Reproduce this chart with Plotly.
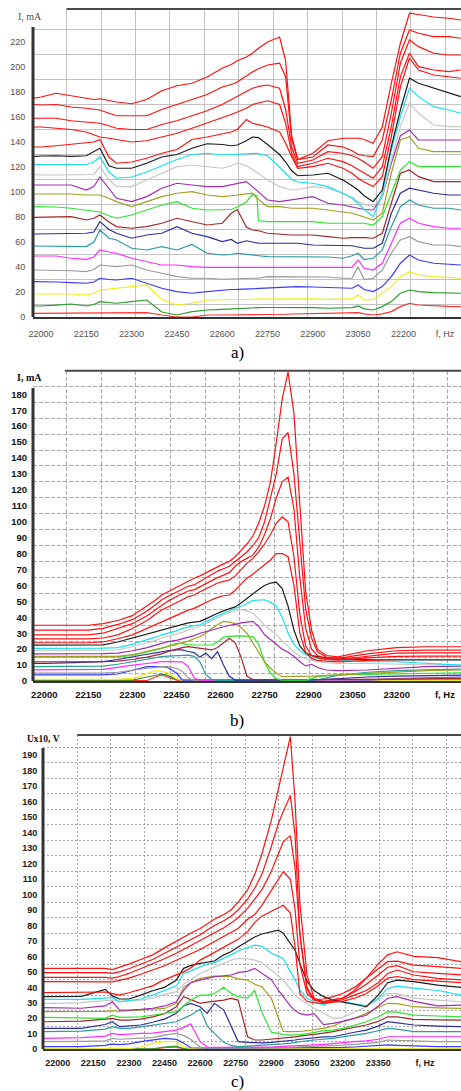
import plotly.graph_objects as go

# ---------------- panel a) : I, mA  vs  f, Hz ----------------
A_FREQ = [21975, 22000, 22050, 22100, 22150, 22175, 22195, 22225, 22250, 22300, 22350, 22400, 22450, 22500, 22550, 22600, 22630, 22650, 22680, 22700, 22715, 22720, 22750, 22790, 22810, 22830, 22850, 22900, 22950, 23000, 23030, 23050, 23070, 23100, 23130, 23160, 23190, 23220, 23250, 23300, 23350, 23390]
A_RED1 = [175, 176, 179, 177, 175, 174, 174.6, 173, 172, 170.6, 174, 181, 185, 187, 192, 199, 202, 205, 208, 211, 214, 215, 220, 224, 205, 145, 126, 131, 141, 143, 143, 143, 142, 139, 152, 187, 219, 243, 242, 240, 239, 237.6]
A_RED2 = [170, 169.6, 170, 168, 167, 166, 165.6, 163, 161, 161, 161, 166, 170, 174, 178, 184, 186, 188, 193, 196, 198, 198.5, 201.6, 203, 192, 142, 126, 128, 137.6, 136, 133, 130, 129, 128.3, 141.6, 173.6, 211, 229.6, 227, 224.3, 224.3, 223]
A_RED3 = [159, 159, 159, 157, 156, 155, 155, 153, 151, 150, 150, 154, 157, 161, 165, 170, 174, 176, 180, 183, 184, 184.5, 185.6, 183, 166, 136, 123, 125.6, 132.3, 131, 129, 127, 124, 119, 128.3, 163, 203, 221.6, 216.3, 211, 209.6, 209.6]
A_RED4 = [152, 152, 151, 150, 148, 146, 144, 143, 142, 140, 141, 144, 147, 151, 155, 159, 162, 164, 167, 170, 171, 171.5, 173, 170, 155, 131, 120.3, 123, 127, 124.3, 121, 118, 115, 111, 120.3, 152.3, 192.3, 211, 200.3, 197.6, 196.3, 197.6]
A_RED5 = [136, 136, 137, 138, 139, 140, 142, 128, 123, 124, 127, 131, 134, 142, 144, 146.6, 148, 150, 158, 155, 154, 153.5, 152, 148, 139, 128.3, 119, 120.3, 123, 119, 115, 111, 108, 104.3, 112.3, 144.3, 184.3, 207, 197.6, 193.6, 192.3, 191]
A_BLACK = [128.3, 128.8, 129, 128.5, 129, 132, 135, 121, 119, 119, 123, 128, 130, 135, 138.6, 138, 137, 137.6, 141, 144, 144, 143.5, 138, 130, 124, 117, 113, 113.6, 115, 109.6, 105, 101.6, 97, 92.3, 101.6, 136.3, 165.6, 191, 187, 183, 179, 176.3]
A_CYAN = [122, 122, 122, 122, 122, 124, 128, 116, 111, 112, 116, 121, 126, 130, 131, 129.6, 130, 130, 131, 131, 131, 130.5, 129, 120, 115, 110, 108, 107, 104.3, 99, 95, 91, 86, 80.3, 99, 133.6, 160.3, 183, 176.3, 168.3, 165.6, 163]
A_LGRAY = [114, 113.6, 113.6, 113.6, 113.6, 114, 120, 110, 104.3, 104.3, 109.6, 115, 120.3, 121.6, 120.3, 119, 121, 123, 121, 118, 116, 115, 109.6, 104.3, 103, 101.6, 102, 104.3, 103, 99, 96, 92.3, 90, 88.3, 96.3, 125.6, 152.3, 171, 163, 153.6, 152.3, 152.3]
A_PURPLE = [105.6, 105.6, 105.6, 105.6, 101.6, 104.3, 112, 103, 95, 92.3, 96.3, 103, 107, 105.6, 104.3, 104.3, 106, 107, 108.3, 104.3, 101, 100, 93.6, 92.3, 93, 93.6, 94, 96.3, 91, 89.6, 88, 87, 86, 85.6, 96.3, 123, 145, 149.6, 141.6, 141.6, 141.6, 141.6]
A_OLIVE = [98.4, 98.4, 98.4, 98.4, 97.6, 97.6, 97.6, 95, 92.3, 88.3, 92.3, 96.3, 99, 100.3, 97.6, 96.3, 97, 97.6, 98, 99, 95, 94, 88.3, 88.3, 87.5, 87, 87, 87, 85.6, 84.3, 83, 81.6, 80, 77.6, 83, 115, 141.6, 144.3, 135, 132.3, 132.3, 132.3]
A_GREEN = [88.3, 88.3, 88, 87, 85.6, 85, 84, 81, 79, 81.6, 85.6, 89.6, 92.3, 87, 85.6, 85.6, 86, 88, 92, 98, 97, 77, 76.3, 76.3, 76.3, 76.3, 76.3, 76.3, 75, 75, 75, 75, 75, 73.6, 80.3, 99, 117.6, 124.3, 120.3, 120.3, 120.3, 120.3]
A_BROWN = [79.7, 79.7, 80, 80.3, 77.6, 79, 81.6, 76, 72.3, 71, 72.3, 75, 79, 76.3, 73.6, 75, 83, 86, 72, 69.6, 69, 69, 67, 66, 65.6, 65.6, 65.6, 65.6, 64.3, 63, 63.5, 63.7, 63.5, 63, 67, 91, 115, 117.6, 112.3, 108.3, 108.3, 108.3]
A_NAVY = [66.4, 66.4, 66.4, 66.4, 67, 68, 76.3, 70, 67, 63, 65.6, 67, 72.3, 67, 64.3, 60.3, 62, 59, 61, 60, 59.5, 59, 59, 59, 59, 59, 59, 57.6, 57.6, 57.6, 57, 56, 55, 55, 59, 83, 99, 103, 101.6, 99, 97.6, 97.6]
A_TEAL = [56.8, 56.8, 56.8, 56.8, 56.3, 60, 69.6, 63, 61.6, 55, 53.6, 56.3, 53.6, 58, 51, 49.6, 50, 51, 50, 49.6, 49, 49, 48.3, 48.3, 48.3, 48.3, 48.3, 48.3, 48, 47, 49, 51, 46, 47, 53.6, 72.3, 88.3, 93.6, 89.6, 87, 87, 85.6]
A_MAGENTA = [48.8, 48.8, 48.8, 47, 46.1, 48, 53.6, 52, 51, 47, 44.3, 41.6, 41.6, 40.3, 39.7, 39.7, 39.7, 39.7, 40, 40.3, 40.3, 40.3, 40.3, 40.3, 40.3, 40.3, 40.3, 40.3, 40.3, 39.7, 39.7, 45.6, 39, 37.6, 43, 59, 75, 79, 75, 72.3, 71, 71]
A_GRAY = [37.6, 37.6, 37.6, 37, 36.3, 38, 41.6, 41, 40.3, 41.6, 37.6, 35, 32.3, 31, 31, 30.2, 30.5, 31, 31, 31, 31, 31, 32.3, 32.3, 32.3, 32.3, 32.3, 32.3, 32, 31, 31, 40.3, 30, 31, 37.6, 51, 61.6, 64.3, 60.3, 57.6, 57.6, 56.3]
A_BLUE = [28.3, 28.3, 28, 27.5, 27, 28, 31, 30, 29.6, 31, 27, 23, 20.3, 19, 20.3, 21.6, 22, 22.1, 22.5, 22.9, 23, 23, 23.5, 24, 24, 24.3, 24.3, 24, 23.5, 22.9, 23, 25.6, 22, 20.3, 24.3, 32.3, 43, 49.6, 45.6, 43, 42.4, 41.6]
A_YELLOW = [18.4, 18.4, 18.4, 18.4, 17.6, 19, 21.6, 22.5, 23, 24.3, 25.6, 14, 9.6, 11, 13.6, 13.6, 13.8, 14.1, 14.1, 14.2, 14.3, 14.3, 14.4, 14.5, 14.6, 14.7, 14.9, 14.5, 14.1, 14.1, 14.5, 17.6, 13.6, 14.1, 19, 24.3, 32.3, 36.3, 33.6, 32.3, 31.7, 31]
A_DGREEN = [8.8, 8.8, 9.5, 10.4, 8.8, 10, 12.3, 11.5, 11, 12.3, 13.6, 4, 1.6, 4.3, 5.6, 6.1, 6.5, 6.9, 7.3, 7.5, 7.5, 7.5, 7.6, 7.7, 7.7, 7.7, 7.7, 7.5, 7, 7, 7.5, 8.8, 6.5, 5.6, 8.3, 12.3, 19, 21.6, 20.3, 19.5, 19.5, 19]
A_RED6 = [2.9, 2.9, 2.9, 3.2, 2.9, 3, 3, 3, 3, 3.2, 3.5, 1.6, 0, 0, 1.6, 1.6, 1.6, 1.8, 1.8, 2, 2, 2, 2, 2.2, 2.2, 2.4, 2.5, 2.6, 2.8, 2.9, 2.9, 3.5, 2.5, 1.6, 2.5, 4.3, 8.3, 11, 9.6, 8.8, 8.5, 8.3]
A_XTICKVALS = [22000, 22150, 22300, 22450, 22600, 22750, 22900, 23050, 23200, 23338]
A_XTICKTEXT = ["22000", "22150", "22300", "22450", "22600", "22750", "22900", "23050", "22200", "f, Hz"]
A_YTICKS = [0, 20, 40, 60, 80, 100, 120, 140, 160, 180, 200, 220]

# ---------------- panel b) : I, mA  vs  f, Hz ----------------
B_FREQ = [21960, 22000, 22100, 22150, 22200, 22250, 22300, 22350, 22380, 22400, 22420, 22450, 22470, 22490, 22510, 22530, 22550, 22570, 22590, 22610, 22630, 22650, 22670, 22690, 22710, 22730, 22750, 22770, 22790, 22810, 22830, 22850, 22870, 22890, 22910, 22930, 22960, 23000, 23100, 23200, 23300, 23420]
B_RED1 = [35, 35, 35, 35, 36, 38, 41, 47, 51, 54, 56, 59, 61, 63, 64.5, 66, 68, 70, 72, 73.5, 75, 78, 82, 86, 91, 99, 110, 125, 150, 177, 194, 168, 111, 56, 32, 20, 16, 15.2, 19, 21, 21.5, 21.5]
B_RED2 = [32, 32, 32, 32, 33, 35.5, 38.5, 44, 48, 51, 53, 56, 58, 59.5, 60.3, 62.5, 65, 67, 69, 70.5, 72, 75, 78, 81, 85, 90, 100, 115, 130, 152, 156, 130, 85, 45, 27, 18.3, 15, 14.2, 17, 19, 19.4, 19.4]
B_RED3 = [29, 29, 29, 29, 30, 33, 36, 41, 45, 47.7, 50, 53, 55, 56.5, 57.2, 59, 61, 63, 65, 66.5, 68, 72, 75, 77, 79, 84, 92, 102, 115, 125, 128, 108, 65, 33, 20, 16, 14, 13.5, 15.5, 17.5, 17.7, 17.7]
B_RED4 = [26.5, 26.5, 26.5, 26.5, 27, 29, 33, 38, 42, 44.6, 46.5, 49, 51, 53, 54, 56, 58, 60, 61.5, 62.5, 63.4, 66, 70, 74, 77, 81, 86, 92, 99, 103, 100, 78, 42, 22, 16, 14.5, 13.5, 13.1, 14.5, 15.5, 15.6, 15.6]
B_RED5 = [24, 24, 24, 24, 24.5, 26.5, 29, 33, 35.5, 37.3, 39, 41.5, 43, 44.5, 45.6, 47.5, 49, 51, 52.5, 53.5, 54, 57, 61, 64.5, 67, 70, 73, 76, 80, 80, 78, 60, 30, 18, 14, 13, 12.5, 12, 13, 13.5, 13.5, 13.5]
B_BLACK = [22.5, 22.5, 22.5, 22.5, 22.7, 24.5, 27, 29.5, 31, 32, 33.2, 34.5, 35.5, 36.5, 37, 37.4, 39, 41, 42.5, 44, 45.3, 46.5, 49, 52, 55, 57.5, 60, 61.5, 62, 58, 47, 32, 22, 17.5, 16, 15.3, 14.5, 14.2, 13.2, 13.2, 13.2, 13.2]
B_CYAN = [20.5, 20.5, 20.5, 20.5, 20.7, 21, 23, 26, 27.5, 29, 30, 31.5, 33, 34, 34.8, 35.3, 37, 39, 41, 42.5, 44, 45.5, 47, 48.5, 50.6, 51, 51, 49.5, 47, 40, 30, 23, 19, 16.5, 15, 14.3, 13.6, 13.3, 12.1, 12.1, 11, 10]
B_LGRAY = [19, 19, 19, 19, 19.3, 19.5, 21.5, 24, 25.5, 27, 28, 29.5, 30.5, 32, 33, 34.2, 36, 38, 40, 41.5, 43, 44, 45, 44, 42.6, 39, 35, 32, 29, 25, 22, 18, 15.5, 14, 13, 12.1, 11.5, 11, 11, 10.5, 10.2, 10]
B_PURPLE = [17, 17, 17, 17, 17.2, 17.5, 19, 21, 22.5, 23.5, 24.7, 25.5, 26.5, 27.5, 28.5, 30, 31, 32, 33, 34, 35, 35.5, 36.5, 37, 37.4, 34.2, 29, 26, 23, 20, 18, 15.5, 12.1, 9.5, 10.5, 8.5, 6.9, 6.5, 6.9, 7.9, 9, 9.4]
B_OLIVE = [15.5, 15.5, 15.5, 15.5, 15.5, 15.5, 16.5, 18.5, 19.7, 20.5, 21.6, 23, 24, 25, 26.5, 27.9, 30, 33, 35.3, 37.4, 37, 36, 33.5, 30, 24, 18, 12, 8, 5, 2.7, 2.7, 2.7, 2.7, 2.7, 3, 3.2, 3.5, 3.8, 4.8, 5.9, 6.5, 6.9]
B_GREEN = [15, 15, 15, 15, 15, 15.2, 16, 18, 19.5, 20.5, 21.6, 23.7, 23.5, 22.8, 22.6, 22.6, 22.6, 22.6, 24.5, 27.5, 28, 28.3, 28.3, 28, 27.9, 23, 12, 5, 1.5, 0.6, 0.6, 0.6, 0.6, 0.6, 1.5, 2.7, 3.2, 3.8, 4.1, 4.4, 4.8, 5.2]
B_BROWN = [12, 12, 12, 12, 12.1, 12.5, 13.5, 15, 16.2, 17, 18.4, 20, 21, 21.6, 21, 20.5, 20, 19.5, 21, 24, 26.8, 24, 15, 3, 1, 0.8, 0.8, 0.8, 0.8, 0.8, 0.8, 0.8, 0.8, 0.8, 0.8, 0.8, 0.8, 0.8, 1, 1.2, 1.4, 1.5]
B_NAVY = [11, 11, 11.5, 12, 12.2, 13.5, 15.3, 16.8, 17.7, 18.4, 19, 19.5, 19.5, 18.5, 17.8, 15, 17.5, 14, 18.4, 10, 3, 0.6, 0.5, 0.5, 0.5, 0.5, 0.5, 0.5, 0.5, 0.5, 0.5, 0.5, 0.5, 0.5, 0.6, 0.8, 1, 1.5, 2.5, 3, 3.5, 3.7]
B_TEAL = [9, 9, 9.2, 9.4, 9.4, 10.5, 12.2, 13.8, 14.7, 15.3, 15.6, 16, 16.3, 16.3, 15.5, 12, 4, 1, 0.3, 0.3, 0.3, 0.3, 0.3, 0.3, 0.3, 0.3, 0.3, 0.3, 0.3, 0.3, 0.3, 0.3, 0.3, 0.3, 0.3, 0.8, 2, 3.5, 5.5, 6.5, 7, 7.5]
B_MAGENTA = [7, 7, 7.1, 7.2, 7.3, 8.5, 10, 11, 11.8, 12.2, 12.2, 12.2, 12, 9, 2, 0.5, 0.5, 0.5, 0.5, 0.5, 0.5, 0.5, 0.5, 0.5, 0.5, 0.5, 0.5, 0.5, 0.5, 0.5, 0.5, 0.5, 0.5, 0.5, 0.5, 0.5, 0.5, 0.5, 0.8, 1, 1.3, 1.5]
B_GRAY = [5, 5, 5, 5, 5, 5.5, 6.9, 8, 8.5, 9, 9, 8, 6, 2, 0.3, 0.3, 0.3, 0.3, 0.3, 0.3, 0.3, 0.3, 0.3, 0.3, 0.3, 0.3, 0.3, 0.3, 0.3, 0.3, 0.3, 0.3, 0.3, 0.3, 0.3, 0.3, 0.3, 0.3, 0.8, 1.2, 1.6, 2]
B_BLUE = [3.8, 3.8, 3.8, 3.8, 3.8, 4.4, 6.9, 9, 9, 9, 8.5, 5, 0.5, 0.5, 0.5, 0.5, 0.5, 0.5, 0.5, 0.5, 0.5, 0.5, 0.5, 0.5, 0.5, 0.5, 0.5, 0.5, 0.5, 0.5, 0.5, 0.5, 0.5, 0.5, 0.5, 0.5, 0.5, 0.5, 0.5, 1.5, 2, 2.5]
B_YELLOW = [1, 1, 1, 1, 1, 1, 1.7, 5, 6.5, 6, 5.2, 1.5, 0.3, 0.3, 0.3, 0.3, 0.3, 0.3, 0.3, 0.3, 0.3, 0.3, 0.3, 0.3, 0.3, 0.3, 0.3, 0.3, 0.3, 0.3, 0.3, 0.3, 0.3, 0.3, 0.3, 0.3, 0.3, 0.3, 0.3, 0.3, 0.3, 0.3]
B_DGREEN = [0.5, 0.5, 0.5, 0.5, 0.5, 0.5, 0.5, 2.5, 3.8, 4.4, 3.5, 1, 0.5, 0.5, 0.5, 0.5, 0.5, 0.5, 0.5, 0.5, 0.5, 0.5, 0.5, 0.5, 0.5, 0.5, 0.5, 0.5, 0.5, 0.5, 0.5, 0.5, 0.5, 0.5, 0.5, 0.5, 0.5, 0.5, 0.5, 0.5, 0.5, 0.5]
B_RED6 = [0.3, 0.3, 0.3, 0.3, 0.3, 0.3, 0.3, 0.3, 2.7, 3.8, 2.5, 0.5, 0.3, 0.3, 0.3, 0.3, 0.3, 0.3, 0.3, 0.3, 0.3, 0.3, 0.3, 0.3, 0.3, 0.3, 0.3, 0.3, 0.3, 0.3, 0.3, 0.3, 0.3, 0.3, 0.3, 0.3, 0.3, 0.3, 0.3, 0.3, 0.3, 0.3]
B_XTICKVALS = [22000, 22150, 22300, 22450, 22600, 22750, 22900, 23050, 23200, 23364]
B_XTICKTEXT = ["22000", "22150", "22300", "22450", "22600", "22750", "22900", "23050", "23200", "f, Hz"]
B_YTICKS = [0, 10, 20, 30, 40, 50, 60, 70, 80, 90, 100, 110, 120, 130, 140, 150, 160, 170, 180]

# ---------------- panel c) : Ux10, V  vs  f, Hz ----------------
C_FREQ = [21940, 22000, 22100, 22200, 22230, 22260, 22300, 22350, 22400, 22450, 22500, 22530, 22560, 22600, 22630, 22660, 22700, 22730, 22760, 22800, 22830, 22860, 22900, 22930, 22950, 22980, 23000, 23020, 23050, 23080, 23120, 23160, 23200, 23250, 23300, 23350, 23390, 23430, 23500, 23600, 23700]
C_RED1 = [52.3, 52.3, 52.5, 52.3, 51.5, 53, 55, 58, 61, 65.5, 70, 72.5, 75, 78, 81, 84, 87, 90, 95, 103, 113, 126, 148, 168, 181, 202, 160, 95, 48, 33, 30.8, 32, 33, 38, 46, 55, 61, 63, 60, 59.2, 56.6]
C_RED2 = [49.5, 49.5, 49.5, 49.5, 49, 50, 52, 55, 58, 62, 66, 68.5, 71, 74, 77, 80, 83, 86, 90, 97, 104, 113, 131, 146, 153.5, 164, 138, 74, 39, 32, 32.5, 34, 36, 40, 46, 52, 56.6, 57, 54.4, 53.4, 52.3]
C_RED3 = [46.5, 46.5, 46.5, 46.5, 46, 47, 49, 52, 55, 58.5, 62, 64.5, 67, 70, 72.5, 75, 78.5, 81.5, 85, 91, 97, 103, 115, 126, 134, 138, 117, 75, 40, 32, 30.8, 32, 33, 37, 42, 48, 53, 54, 50.1, 49, 48]
C_RED4 = [43.7, 43.7, 43.7, 43.7, 43.5, 44.5, 46, 48.5, 51, 54, 57.5, 59.5, 62, 64.5, 67, 69.5, 72.5, 75, 78, 84, 87, 93, 103, 110, 114.7, 110, 90, 55, 36, 32, 30, 30.8, 32, 35, 38, 43, 49, 51.2, 48, 45.8, 44.8]
C_RED5 = [36.6, 36.6, 36.6, 37, 36, 35, 36.5, 38.5, 41, 45, 48, 50, 52.5, 57.6, 60, 62.5, 66, 68.5, 71, 76, 82, 86, 89, 91.5, 93, 88, 66, 36, 31, 30, 29.7, 30.5, 31, 33, 36, 41, 46, 47, 45, 44, 43]
C_BLACK = [34, 34, 34.2, 38.7, 34.5, 32.5, 32.5, 35, 37.8, 40, 44.7, 52.3, 54, 55.5, 56.3, 57, 61, 63, 66, 70, 72.5, 74.5, 76, 77, 75, 68, 64, 55.5, 44, 38, 34, 31.8, 30.5, 29, 27.5, 35, 43, 44.7, 43.7, 41.5, 40]
C_CYAN = [32.3, 32.3, 32.3, 33, 33.5, 30.7, 31.5, 32.5, 35, 38, 41, 49, 50.5, 53.3, 55, 56, 58.7, 61, 63.5, 65.5, 67.3, 66.5, 62, 60, 58.7, 50, 45, 38.3, 33, 30.7, 28.6, 31.4, 30.7, 29.5, 28, 33, 39.3, 40.8, 39.5, 38, 35]
C_LGRAY = [29.7, 29.7, 30.2, 31.8, 31.8, 31, 31.5, 31.8, 33, 35.5, 37.2, 42, 45, 49, 51, 53, 55.5, 57.5, 58.7, 58.5, 57.6, 56, 51, 47.5, 44.7, 39, 35, 32.5, 29.5, 26.5, 23.5, 20, 20.5, 24, 27.5, 32, 36, 36, 33, 31.8, 30.7]
C_PURPLE = [26.9, 26.9, 26.5, 28, 30.7, 25.5, 25.3, 25.8, 26.5, 28, 30.7, 38, 43, 44.7, 45.8, 46.9, 47.5, 48, 49.5, 50.5, 52.3, 49, 45, 38, 34, 28, 25, 23, 22.1, 23, 16, 16.7, 18, 20, 22, 28, 33, 34, 31, 28, 28.6]
C_OLIVE = [24.3, 24.3, 24.3, 24.5, 25, 24.5, 25, 25.3, 26, 26.4, 29.7, 40, 43, 45.8, 46.5, 47.3, 47, 46.9, 45.5, 44.7, 42, 40.4, 33, 20, 11.5, 11.4, 11.4, 11.5, 12, 12.5, 13.5, 15, 17.8, 20, 23.2, 27, 29.7, 29.5, 27.5, 26.8, 26.4]
C_GREEN = [20.6, 20.6, 20.3, 20, 22.1, 20.6, 20.6, 21, 22, 23, 24.3, 28, 31.8, 35, 35, 36, 40, 36.1, 34, 33, 38, 24, 11, 10.3, 9.5, 9.2, 9.2, 9.5, 10, 11, 12, 12.4, 13.5, 15.5, 17.8, 21, 24.3, 24, 22.1, 21.5, 21]
C_BROWN = [17.8, 17.8, 18.2, 19.5, 20, 18.9, 18.9, 19.5, 21, 23, 27.5, 34, 32, 29.7, 30.5, 31, 31.8, 32.9, 31.8, 8.1, 6, 6, 6.5, 7, 7.1, 7.5, 8, 8.5, 9, 9.5, 10.5, 11.4, 12.5, 14, 15.7, 18, 21, 21, 19.3, 19, 18.9]
C_NAVY = [13.5, 13.5, 13.5, 16, 17.8, 14.6, 15, 15.7, 17.5, 19.5, 23.2, 28, 29.7, 27.5, 23.2, 29.7, 25.3, 14.6, 5, 4.5, 4.2, 4.2, 4.5, 4.9, 5, 5.5, 6, 6.5, 7, 7.5, 8, 8.1, 9.5, 11, 12.4, 15, 17.8, 17, 15.7, 15, 14.6]
C_TEAL = [11.4, 11.4, 11.8, 13, 14.6, 13.5, 13.5, 14.5, 15.7, 17, 17.8, 20, 22, 26, 15, 10.3, 4.5, 2.5, 1.7, 2.1, 2.3, 2.5, 3, 3.4, 3.5, 4, 4.5, 5, 5.5, 6, 6.5, 7, 8, 9, 10.3, 12, 13.5, 13, 11.4, 11.4, 11.4]
C_MAGENTA = [7.1, 7.1, 7.5, 8.5, 10.3, 9.5, 10, 10.3, 10.5, 11.5, 12.4, 14, 16.5, 5, 1.5, 1.2, 1.2, 1.2, 1.2, 1.2, 1.3, 1.4, 1.5, 1.7, 1.8, 2, 2.2, 2.4, 2.6, 2.8, 3.2, 3.6, 4, 4.9, 5.5, 6.5, 8.1, 8.1, 8.1, 8.1, 8.1]
C_GRAY = [4.9, 4.9, 5.1, 5.5, 7.1, 6.5, 6.8, 7.1, 7.5, 9.2, 10.3, 9, 6.5, 1.5, 1, 0.8, 0.8, 0.8, 0.8, 0.8, 0.8, 0.9, 1, 1.1, 1.2, 1.3, 1.4, 1.5, 1.6, 1.8, 2, 2.3, 2.7, 3.2, 3.8, 4.5, 6, 5.8, 5, 4.9, 4.9]
C_BLUE = [1.7, 1.7, 1.7, 2.5, 3.4, 3, 3.5, 5, 6, 7.1, 6.4, 4, 1, 0.8, 0.8, 0.8, 0.8, 0.8, 0.8, 0.8, 0.8, 0.8, 0.8, 0.8, 0.8, 0.8, 0.8, 0.8, 0.8, 0.9, 1, 1.1, 1.2, 1.5, 2, 2.5, 2.8, 2.5, 2, 1.7, 1.7]
C_YELLOW = [0.5, 0.5, 0.5, 0.5, 0.5, 0.5, 0.5, 1.5, 3.8, 4.9, 4.9, 1.7, 0.4, 0.4, 0.4, 0.4, 0.4, 0.4, 0.4, 0.4, 0.4, 0.4, 0.4, 0.4, 0.4, 0.4, 0.4, 0.4, 0.4, 0.4, 0.4, 0.4, 0.4, 0.4, 0.4, 0.4, 0.4, 0.4, 0.4, 0.4, 0.4]
C_DGREEN = [0.3, 0.3, 0.3, 0.3, 0.3, 0.3, 0.3, 0.3, 0.3, 1.5, 2.1, 0.5, 0.3, 0.3, 0.3, 0.3, 0.3, 0.3, 0.3, 0.3, 0.3, 0.3, 0.3, 0.3, 0.3, 0.3, 0.3, 0.3, 0.3, 0.3, 0.3, 0.3, 0.3, 0.3, 0.3, 0.3, 0.3, 0.3, 0.3, 0.3, 0.3]
C_RED6 = [0.2, 0.2, 0.2, 0.2, 0.2, 0.2, 0.2, 0.2, 0.2, 1, 1.5, 0.3, 0.2, 0.2, 0.2, 0.2, 0.2, 0.2, 0.2, 0.2, 0.2, 0.2, 0.2, 0.2, 0.2, 0.2, 0.2, 0.2, 0.2, 0.2, 0.2, 0.2, 0.2, 0.2, 0.2, 0.2, 0.2, 0.2, 0.2, 0.2, 0.2]
C_XTICKVALS = [22000, 22150, 22300, 22450, 22600, 22750, 22900, 23050, 23200, 23350, 23547]
C_XTICKTEXT = ["22000", "22150", "22300", "22450", "22600", "22750", "22900", "23050", "23200", "23350", "f, Hz"]
C_YTICKS = [0, 10, 20, 30, 40, 50, 60, 70, 80, 90, 100, 110, 120, 130, 140, 150, 160, 170, 180, 190]

# ---------------- styling ----------------
W, H = 461, 1091
LINE_COLORS = ["#ff1010", "#ff1010", "#ff1010", "#ff1010", "#ff1010", "#1a1a1a", "#18e0ee",
               "#c6c6c6", "#a32cb2", "#a0a020", "#2ee42e", "#a02828", "#2c2c9e", "#2a9c9c",
               "#ff2cff", "#9a9a9a", "#3a3aff", "#eeee18", "#2a9a2a", "#ff3030"]

A_SERIES = [A_RED1, A_RED2, A_RED3, A_RED4, A_RED5, A_BLACK, A_CYAN, A_LGRAY, A_PURPLE, A_OLIVE,
            A_GREEN, A_BROWN, A_NAVY, A_TEAL, A_MAGENTA, A_GRAY, A_BLUE, A_YELLOW, A_DGREEN, A_RED6]
B_SERIES = [B_RED1, B_RED2, B_RED3, B_RED4, B_RED5, B_BLACK, B_CYAN, B_LGRAY, B_PURPLE, B_OLIVE,
            B_GREEN, B_BROWN, B_NAVY, B_TEAL, B_MAGENTA, B_GRAY, B_BLUE, B_YELLOW, B_DGREEN, B_RED6]
C_SERIES = [C_RED1, C_RED2, C_RED3, C_RED4, C_RED5, C_BLACK, C_CYAN, C_LGRAY, C_PURPLE, C_OLIVE,
            C_GREEN, C_BROWN, C_NAVY, C_TEAL, C_MAGENTA, C_GRAY, C_BLUE, C_YELLOW, C_DGREEN, C_RED6]

SANS = "Liberation Sans, Arial, sans-serif"
SERIF = "Liberation Serif, Times New Roman, serif"

PANELS = [
    dict(n="", freq=A_FREQ, series=A_SERIES, px_left=33, py_bottom=317, py_top=9,
         xrange=[21973.5, 23390.7], yrange=[0, 246.4],
         xtv=A_XTICKVALS, xtt=A_XTICKTEXT, ytv=A_YTICKS,
         xgrid=(22085, 114), ygrid=(10, 20), gridcolor="#c2c2c2", griddash="solid",
         font=dict(family=SANS, size=9, color="#505050"), xticklen=7, yticklen=5,
         axis_top=232, frame_x0=22085,
         title="I, mA", title_xy=(30, 17), title_font=dict(family=SERIF, size=10, color="#505050"),
         caption="a)", caption_y=352),
    dict(n="2", freq=B_FREQ, series=B_SERIES, px_left=33, py_bottom=681, py_top=370.7,
         xrange=[21961.5, 23418.8], yrange=[0, 194.8],
         xtv=B_XTICKVALS, xtt=B_XTICKTEXT, ytv=B_YTICKS,
         xgrid=(22076, 118), ygrid=(5, 10), gridcolor="#a9a9a9", griddash="4px,2px",
         font=dict(family=SANS, size=9.5, color="#111111", weight="bold"), xticklen=4, yticklen=3,
         axis_top=184, frame_x0=22070,
         title="I, mA", title_xy=(29, 377), title_font=dict(family=SERIF, size=10, color="#111111", weight="bold"),
         caption="b)", caption_y=720),
    dict(n="3", freq=C_FREQ, series=C_SERIES, px_left=43, py_bottom=1049.3, py_top=735,
         xrange=[21938.1, 23698.9], yrange=[0, 203.0],
         xtv=C_XTICKVALS, xtt=C_XTICKTEXT, ytv=C_YTICKS,
         xgrid=(22082.5, 141.4), ygrid=(5, 10), gridcolor="#a4a4a4", griddash="2px,2px",
         font=dict(family=SANS, size=9, color="#1a1a1a", weight="bold"), xticklen=4, yticklen=3,
         axis_top=194.6, frame_x0=22082.5,
         title="Ux10, V", title_xy=(43, 739), title_font=dict(family=SERIF, size=9.5, color="#111111", weight="bold"),
         caption="c)", caption_y=1081),
]

fig = go.Figure()
shapes, annotations = [], []
layout = {}

for p in PANELS:
    n = p["n"]
    xa, ya = "x" + n, "y" + n
    freq = p["freq"]
    names = ["red1", "red2", "red3", "red4", "red5", "black", "cyan", "lgray", "purple", "olive",
             "green", "brown", "navy", "teal", "magenta", "gray", "blue", "yellow", "dgreen", "red6"]
    for name, vals in zip(names, p["series"]):
        assert len(vals) == len(freq), f"panel {n or '1'} {name}: {len(vals)} vs {len(freq)}"
    order = list(range(len(p["series"])))[::-1]
    for i in order:
        fig.add_trace(go.Scatter(
            x=freq, y=p["series"][i], mode="lines", xaxis=xa, yaxis=ya,
            line=dict(color=LINE_COLORS[i], width=1.2), hoverinfo="skip", showlegend=False))

    layout["xaxis" + n] = dict(
        domain=[p["px_left"] / W, 1.0], range=p["xrange"], anchor=ya, automargin=False,
        tickmode="array", tickvals=p["xtv"], ticktext=p["xtt"],
        showgrid=False, zeroline=False, showline=True, linecolor="#333333", linewidth=2,
        ticks="outside", ticklen=p["xticklen"], tickcolor="rgba(0,0,0,0)",
        tickfont=p["font"], fixedrange=True,
        minor=dict(tick0=p["xgrid"][0], dtick=p["xgrid"][1], showgrid=True,
                   gridcolor=p["gridcolor"], griddash=p["griddash"], gridwidth=1, ticks=""))
    layout["yaxis" + n] = dict(
        domain=[1 - p["py_bottom"] / H, 1 - p["py_top"] / H], range=p["yrange"], anchor=xa,
        automargin=False,
        tickmode="array", tickvals=p["ytv"], ticktext=[str(v) for v in p["ytv"]],
        showgrid=False, zeroline=False, showline=False,
        ticks="outside", ticklen=p["yticklen"], tickcolor="rgba(0,0,0,0)",
        tickfont=p["font"], fixedrange=True,
        minor=dict(tick0=p["ygrid"][0], dtick=p["ygrid"][1], showgrid=True,
                   gridcolor=p["gridcolor"], griddash=p["griddash"], gridwidth=1, ticks=""))

    # left axis bar (shorter than the plot frame) and top frame line
    shapes.append(dict(type="line", xref=xa + " domain", yref=ya, x0=0, x1=0, y0=0, y1=p["axis_top"],
                       line=dict(color="#333333", width=3), layer="above"))
    shapes.append(dict(type="line", xref=xa, yref=ya + " domain", x0=p["frame_x0"], x1=p["xrange"][1],
                       y0=1, y1=1, line=dict(color="#4a4a4a", width=2), layer="above"))

    tx, ty = p["title_xy"]
    annotations.append(dict(text=p["title"], xref="paper", yref="paper", x=tx / W, y=1 - ty / H,
                            xanchor="center", yanchor="middle", showarrow=False, font=p["title_font"]))
    annotations.append(dict(text=p["caption"], xref="paper", yref="paper", x=237 / W, y=1 - p["caption_y"] / H,
                            xanchor="center", yanchor="middle", showarrow=False,
                            font=dict(family=SERIF, size=17, color="#000000")))

fig.update_layout(
    width=W, height=H, margin=dict(l=0, r=0, t=0, b=0, autoexpand=False),
    paper_bgcolor="white", plot_bgcolor="white", showlegend=False,
    shapes=shapes, annotations=annotations, **layout)

# remove the browser's default 8px page margin so the figure starts at the window corner
fig.write_html("out.html", config={"displayModeBar": False},
               post_script="document.body.style.margin='0';document.body.style.overflow='hidden';")
